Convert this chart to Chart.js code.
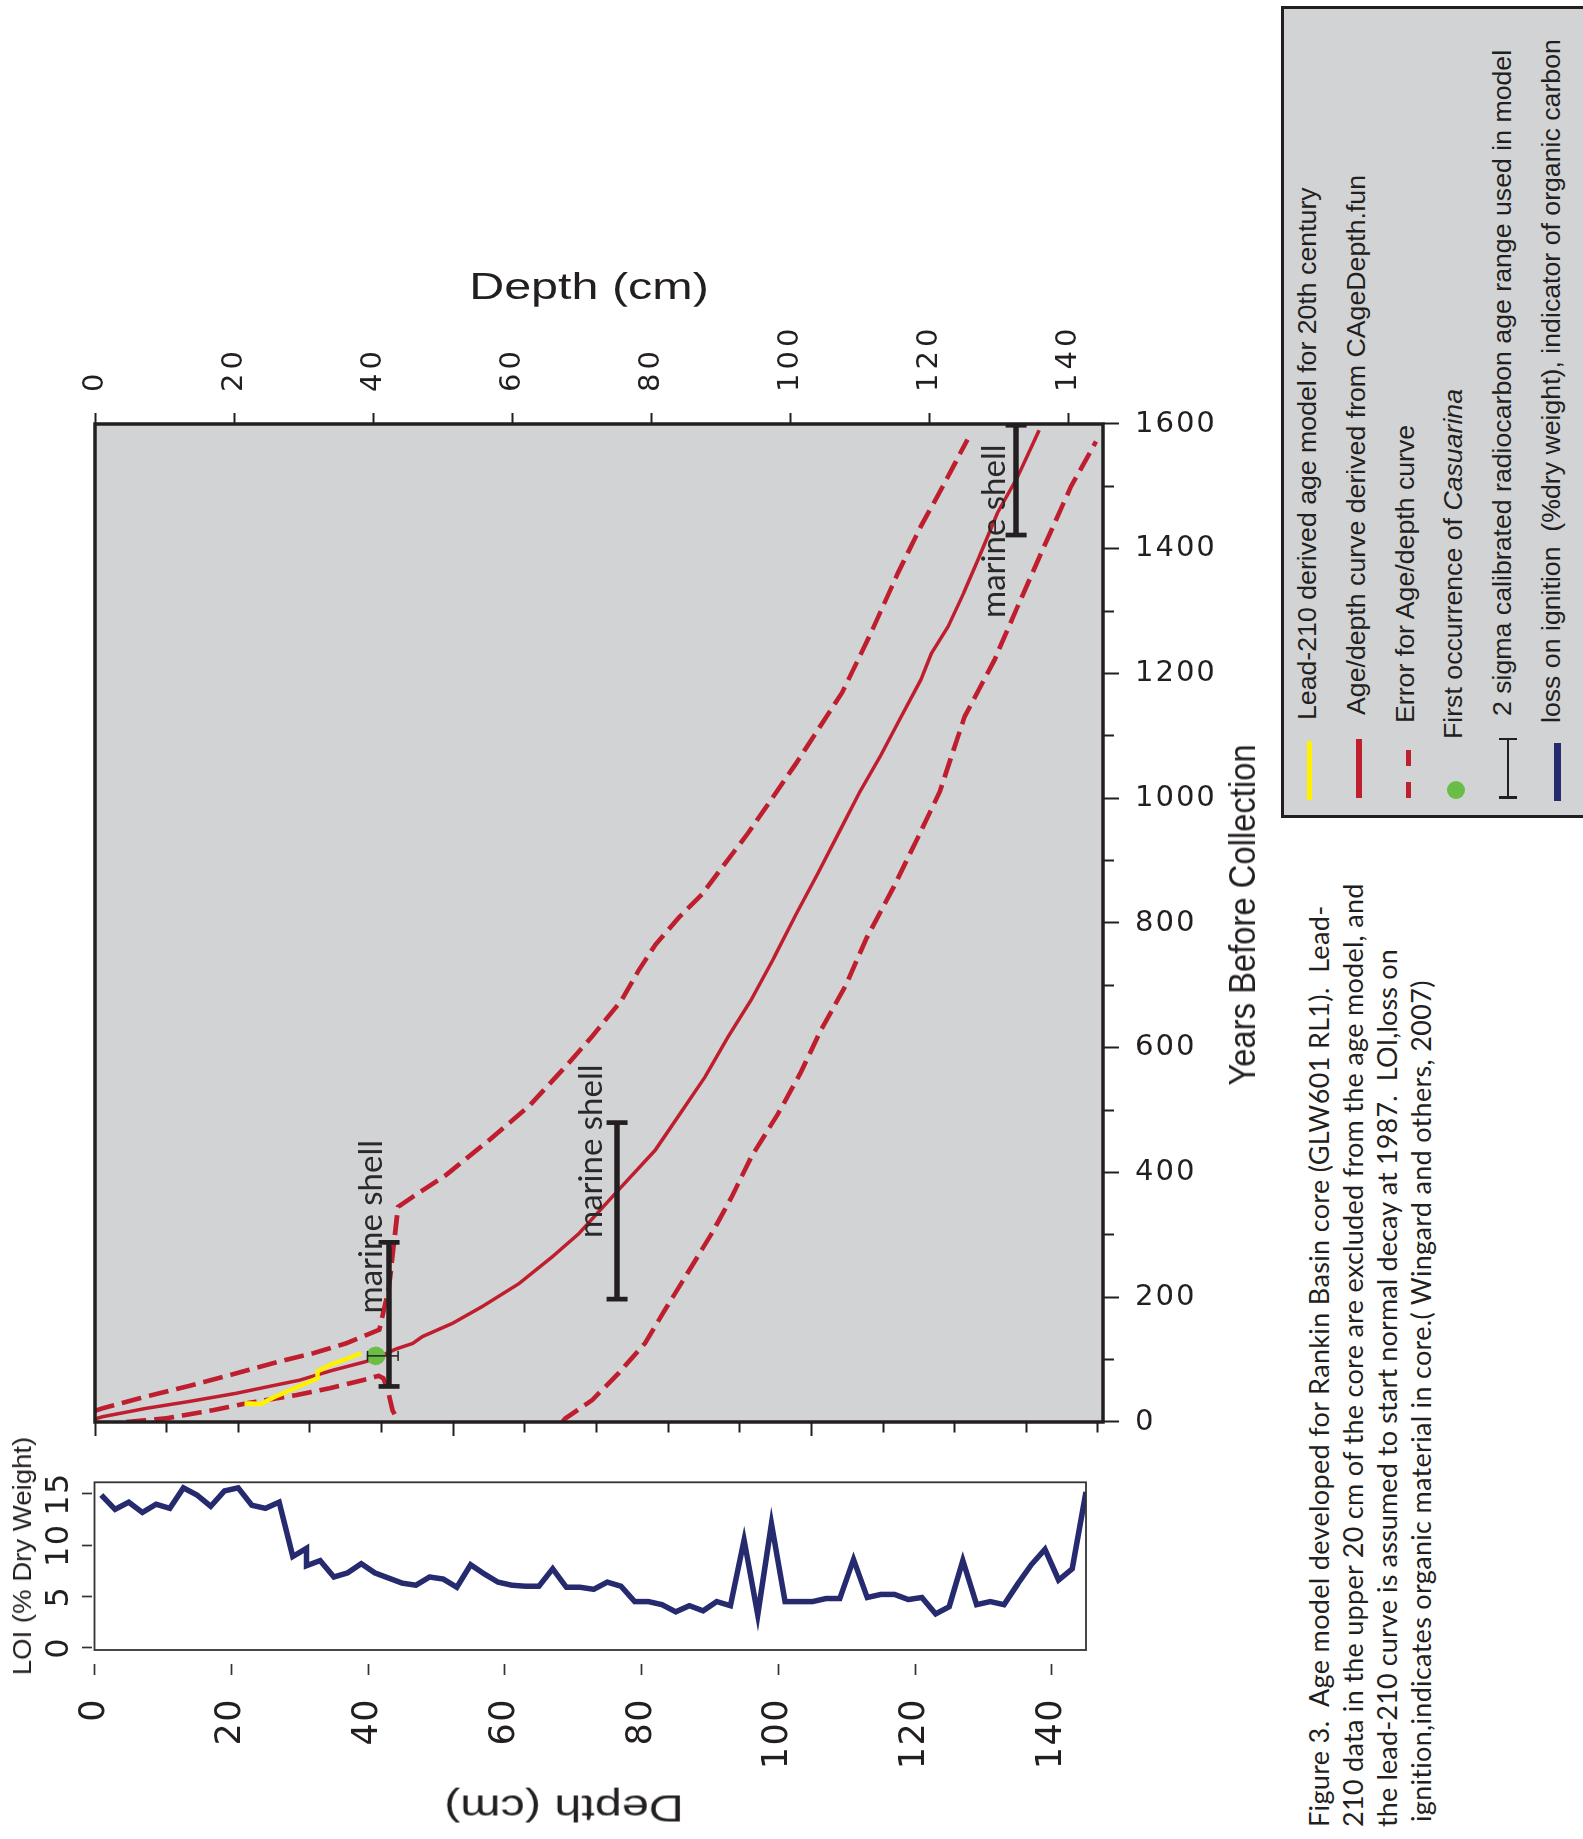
<!DOCTYPE html>
<html lang="en">
<head>
<meta charset="utf-8">
<title>Rankin Basin core GLW601 RL1 – age model</title>
<script src="https://cdn.jsdelivr.net/npm/chart.js@4.4.1/dist/chart.umd.min.js"></script>
<style>
  html, body { margin: 0; background: #fff; }
  body { width: 1583px; height: 1839px; overflow: hidden; position: relative;
         font-family: "Liberation Sans", Arial, sans-serif; color: #231f20; }
  /* la figure est montée à l'horizontale puis tournée d'un quart de tour */
  #figure { position: absolute; left: 0; top: 0; width: 1839px; height: 1583px; overflow: hidden;
            transform-origin: 0 0; transform: translate(0, 1839px) rotate(-90deg); }
  #figure canvas { position: absolute; top: 0; }
  .texte { position: absolute; white-space: nowrap; line-height: 1; }
  .titre { font-size: 37px; }
  #cadreLegende { position: absolute; box-sizing: border-box; border: 3px solid #231f20; background: #d1d3d4; }
  .symbole { position: absolute; }
  .legende { font-size: 26.7px; }
  #legendeFigure { position: absolute; left: 12px; top: 1302px; font-family: Lato, "Open Sans", sans-serif;
                   font-size: 27px; line-height: 34px; }
  #legendeFigure div { white-space: nowrap; width: max-content; }
</style>
</head>
<body>
<div id="figure">
  <canvas id="perteFeu" width="380" height="1130" style="left:0"></canvas>
  <canvas id="graphique" width="1459" height="1275" style="left:380px"></canvas>

  <!-- titres des axes -->
  <div class="texte titre" style="left:1553px; top:589px; transform: translate(-50%,-50%) rotate(90deg) scaleX(1.31);">Depth (cm)</div>
  <div class="texte titre" style="left:30.5px; top:564px; transform: translate(-50%,-50%) rotate(-90deg) scaleX(1.31);">Depth (cm)</div>
  <div class="texte" style="left:924px; top:1243px; font-size:36px; transform: translate(-50%,-50%) scaleX(0.91);">Years Before Collection</div>
  <div class="texte" style="left:282.5px; top:21.5px; font-size:26px; transform: translate(-50%,-50%) scaleX(1.06);">LOI (% Dry Weight)</div>

  <!-- légende -->
  <div id="cadreLegende" style="left:1021px; top:1281px; width:812px; height:330px;"></div>
  <div class="symbole" style="left:1039px; top:1306.5px; width:59px; height:5.5px; background:#fff200;"></div>
  <div class="symbole" style="left:1041px; top:1356px; width:59px; height:5.5px; background:#be1e2d;"></div>
  <div class="symbole" style="left:1041px; top:1406px; width:16px; height:5px; background:#be1e2d;"></div>
  <div class="symbole" style="left:1073px; top:1406px; width:16px; height:5px; background:#be1e2d;"></div>
  <div class="symbole" style="left:1040px; top:1447px; width:18px; height:18px; border-radius:50%; background:#6abd45;"></div>
  <div class="symbole" style="left:1041px; top:1507px; width:59px; height:2px; background:#231f20;"></div>
  <div class="symbole" style="left:1040px; top:1499px; width:2.5px; height:18px; background:#231f20;"></div>
  <div class="symbole" style="left:1098.5px; top:1499px; width:2.5px; height:18px; background:#231f20;"></div>
  <div class="symbole" style="left:1038px; top:1554px; width:58px; height:6.5px; background:#262a6e;"></div>
  <div class="texte legende" style="left:1119px; top:1294px;">Lead-210 derived age model for 20th century</div>
  <div class="texte legende" style="left:1124px; top:1343px;">Age/depth curve derived from CAgeDepth.fun</div>
  <div class="texte legende" style="left:1116px; top:1391.5px;">Error for Age/depth curve</div>
  <div class="texte legende" style="left:1100px; top:1440px;">First occurrence of <i>Casuarina</i></div>
  <div class="texte legende" style="left:1123px; top:1489px;">2 sigma calibrated radiocarbon age range used in model</div>
  <div class="texte legende" style="left:1116px; top:1537.5px;">loss on ignition&nbsp; (%dry weight), indicator of organic carbon</div>

  <!-- texte de la figure -->
  <div id="legendeFigure">
    <div data-largeur="922">Figure 3.&nbsp; Age model developed for Rankin Basin core (GLW601 RL1).&nbsp; Lead-</div>
    <div data-largeur="944">210 data in the upper 20 cm of the core are excluded from the age model, and</div>
    <div data-largeur="878">the lead-210 curve is assumed to start normal decay at 1987.&nbsp; LOI,loss on</div>
    <div data-largeur="842" style="margin-left:5px">ignition,indicates organic material in core.( Wingard and others, 2007)</div>
  </div>
</div>

<script>
// Profondeur (cm) et âge (années avant le prélèvement) pour chaque courbe
const leadModel = [[21.5, 30], [23.9, 29], [25.6, 39], [32, 70], [32, 81], [33.7, 91], [38.3, 110]];

const ageCurve = [[0, 5], [1.1, 8.5], [7.4, 22], [13.6, 33], [20.3, 46], [24.6, 56], [29.4, 67],
  [34.2, 83], [39, 97], [41.5, 108], [43.3, 117], [45.7, 126], [47.1, 137], [51.4, 158],
  [55.7, 185], [61, 222], [65.8, 265], [69.6, 302], [75.3, 372], [80.6, 436], [83.9, 490],
  [87.8, 554], [91.1, 618], [94.4, 677], [97.7, 745], [100.8, 813], [104, 880], [107, 945],
  [110, 1010], [113, 1068], [115.7, 1125], [118.8, 1190], [120.3, 1232], [122.7, 1275],
  [125, 1330], [127, 1382], [129.8, 1457], [132.7, 1515], [135.8, 1590]];

const errorOlder = [[0, 18], [1.1, 22], [7.4, 41], [13.6, 58], [20.3, 78], [26.5, 97], [31.3, 110],
  [36.1, 126], [40.9, 148], [42.3, 217], [43.6, 345], [45.7, 361], [50.5, 396], [56.7, 452],
  [62.4, 506], [67.7, 570], [71.5, 618], [75.8, 677], [78.2, 724], [80.6, 765], [84, 809],
  [87.3, 846], [94, 945], [100.8, 1055], [107.5, 1170], [111.5, 1262], [115.5, 1361],
  [118.8, 1436], [122.2, 1505], [125.5, 1575]];

const errorYoungTop = [[4.5, 0], [10.3, 6], [17, 19], [21.8, 30], [28.9, 43], [33.7, 54],
  [38.5, 67], [40.8, 74], [41.5, 70], [42.1, 52], [42.8, 19], [43.3, 8]];

const errorYoung = [[67.2, 0], [67.7, 6], [71.5, 35], [75.3, 78], [79.1, 126], [82, 180],
  [85.8, 249], [88.7, 302], [91.6, 361], [94.4, 425], [98.3, 495], [101.5, 560], [104.5, 630],
  [108, 700], [111, 776], [115, 860], [118.5, 940], [121.5, 1010], [125.1, 1131], [129.4, 1222],
  [132.7, 1307], [136.5, 1403], [140.4, 1500], [144, 1572]];

// Casuarina : [profondeur, âge] et intervalle de profondeur
const casuarina = [40.4, 106];
const casuarinaDepthRange = [39.2, 43.6];

// coquilles marines : [profondeur, âge min, âge max] (2 sigma)
const marineShells = [[42.3, 57, 288], [75.1, 197, 480], [132.5, 1422, 1598]];
// étiquettes : [texte, profondeur de la ligne de base, âge du début du texte]
const shellLabels = [['marine shell', 41.25, 174], ['marine shell', 72.9, 295], ['marine shell', 130.9, 1289]];

// Perte au feu (% poids sec) selon la profondeur
const loiDepth = [1, 3, 5, 7, 9, 11, 13, 15, 17, 19, 21, 23, 25, 27, 29, 31, 31, 33, 35, 37, 39, 41,
  43, 45, 47, 49, 51, 53, 55, 57, 59, 61, 63, 65, 67, 69, 71, 73, 75, 77, 79, 81, 83, 85, 87, 89,
  91, 93, 95, 97, 99, 101, 103, 105, 107, 109, 111, 113, 115, 117, 119, 121, 123, 125, 127, 129,
  131, 133, 135, 137, 139, 141, 143, 145];
const loiValues = [14.9, 13.5, 14.2, 13.2, 14.0, 13.6, 15.6, 14.9, 13.8, 15.3, 15.6, 13.9, 13.6,
  14.2, 8.9, 9.7, 8.0, 8.5, 6.9, 7.3, 8.2, 7.3, 6.8, 6.3, 6.1, 6.9, 6.7, 5.9, 8.1, 7.2, 6.4, 6.1,
  6.0, 6.0, 7.7, 5.9, 5.9, 5.7, 6.4, 6.0, 4.5, 4.5, 4.2, 3.5, 4.1, 3.6, 4.5, 4.1, 10.5, 3.2, 12.1,
  4.5, 4.5, 4.5, 4.8, 4.8, 8.6, 4.9, 5.2, 5.2, 4.7, 4.9, 3.3, 4.0, 8.5, 4.2, 4.5, 4.2, 6.2, 8.1,
  9.6, 6.6, 7.7, 15.2];

const NOIR = '#231f20';
const ROUGE = '#be1e2d';

// Fond gris, cadre et espacement des chiffres des axes
const cadre = {
  id: 'cadre',
  beforeDraw(chart, args, opts) {
    const { ctx, chartArea: a } = chart;
    if (opts.fond) {
      ctx.save();
      ctx.fillStyle = opts.fond;
      ctx.fillRect(a.left, a.top, a.right - a.left, a.bottom - a.top);
      ctx.restore();
    }
    ctx.letterSpacing = opts.espacement || '0px';
  },
  afterDatasetsDraw(chart, args, opts) {
    const { ctx, chartArea: a } = chart;
    ctx.save();
    ctx.letterSpacing = '0px';
    ctx.strokeStyle = opts.couleur;
    ctx.lineWidth = opts.epaisseur;
    ctx.strokeRect(a.left, a.top, a.right - a.left, a.bottom - a.top);
    ctx.restore();
  },
  afterDraw(chart) {
    chart.ctx.letterSpacing = '0px';
  }
};

// Années sous l'axe, écrites perpendiculairement
const etiquettesAnnees = {
  id: 'etiquettesAnnees',
  afterDraw(chart, args, opts) {
    const { ctx } = chart;
    const sx = chart.scales.x;
    ctx.save();
    ctx.font = '29px "DejaVu Sans"';
    ctx.letterSpacing = '2px';
    ctx.fillStyle = NOIR;
    ctx.textAlign = 'left';
    ctx.textBaseline = 'middle';
    sx.ticks.filter(t => t.value % 200 === 0).forEach(t => {
      ctx.save();
      ctx.translate(sx.getPixelForValue(t.value), sx.top + opts.decalage);
      ctx.rotate(Math.PI / 2);
      ctx.fillText(String(t.value), 0, 0);
      ctx.restore();
    });
    ctx.restore();
  }
};

// Étiquettes "marine shell"
const etiquettesCoquilles = {
  id: 'etiquettesCoquilles',
  afterDatasetsDraw(chart) {
    const { ctx } = chart;
    const { x: sx, y: sy } = chart.scales;
    ctx.save();
    ctx.letterSpacing = '0px';
    ctx.font = '33px Lato, "Open Sans", sans-serif';
    ctx.fillStyle = '#2b2829';
    ctx.textAlign = 'left';
    ctx.textBaseline = 'alphabetic';
    shellLabels.forEach(([texte, profondeur, annees]) => {
      ctx.fillText(texte, sx.getPixelForValue(annees), sy.getPixelForValue(profondeur));
    });
    ctx.restore();
  }
};

const versPoints = (liste) => liste.map(([profondeur, annees]) => ({ x: annees, y: profondeur }));

const courbe = (liste, couleur, epaisseur, tirets) => ({
  data: versPoints(liste),
  borderColor: couleur,
  borderWidth: epaisseur,
  borderDash: tirets || [],
  borderCapStyle: 'butt',
  pointRadius: 0,
  tension: 0,
  fill: false
});

const barresCoquilles = marineShells.map(([profondeur, jeune, vieux]) => ({
  data: [{ x: jeune, y: profondeur }, { x: vieux, y: profondeur }],
  borderColor: NOIR,
  borderWidth: 5.5,
  pointStyle: 'line',
  pointRotation: 90,
  pointRadius: 10.5,
  pointBorderWidth: 4.7,
  pointBorderColor: NOIR,
  pointBackgroundColor: NOIR
}));

const options = {
  indexAxis: 'y',
  responsive: false,
  animation: false,
  devicePixelRatio: 1,
  events: []
};

// Graphique principal : âge / profondeur
new Chart(document.getElementById('graphique'), {
  type: 'line',
  data: {
    datasets: [
      ...barresCoquilles,
      {
        data: [{ x: casuarina[1], y: casuarinaDepthRange[0] }, { x: casuarina[1], y: casuarinaDepthRange[1] }],
        borderColor: NOIR, borderWidth: 1.5,
        pointStyle: 'line', pointRotation: 0, pointRadius: 5, pointBorderWidth: 1.5, pointBorderColor: NOIR
      },
      {
        data: [{ x: casuarina[1], y: casuarina[0] }],
        showLine: false, pointRadius: 9.3, pointBorderWidth: 0, pointBackgroundColor: '#6abd45'
      },
      courbe(leadModel, '#fff200', 4.5),
      courbe(ageCurve, ROUGE, 3.5),
      courbe(errorOlder, ROUGE, 4.6, [20, 8]),
      courbe(errorYoungTop, ROUGE, 4.6, [20, 8]),
      courbe(errorYoung, ROUGE, 4.6, [20, 8])
    ]
  },
  options: {
    ...options,
    layout: { padding: { top: 95, right: 0, bottom: 0, left: 0 } },
    plugins: {
      legend: { display: false },
      tooltip: { enabled: false },
      cadre: { fond: '#d1d3d4', couleur: NOIR, epaisseur: 3.5, espacement: '4px' },
      etiquettesAnnees: { decalage: 32 }
    },
    scales: {
      x: {
        type: 'linear', position: 'bottom', min: 0, max: 1600,
        ticks: { stepSize: 100, display: false, includeBounds: false },
        grid: {
          drawOnChartArea: false, tickLength: 16, tickWidth: 2, tickColor: NOIR,
          tickBorderDash: (c) => (c.tick && c.tick.value % 200 ? [11, 40] : [])
        },
        border: { display: false },
        afterFit: (s) => { s.height = 172; }
      },
      y: {
        type: 'linear', position: 'right', reverse: true, min: 0, max: 145,
        ticks: { stepSize: 20, includeBounds: false, padding: 21, color: NOIR,
                 font: { family: 'DejaVu Sans', size: 29 } },
        grid: { drawOnChartArea: false, tickLength: 11, tickWidth: 2, tickColor: NOIR },
        border: { display: false },
        afterFit: (s) => { s.width = 424; }
      },
      graduation: {
        type: 'linear', position: 'left', reverse: true, min: 0, max: 14.07,
        ticks: { stepSize: 1, includeBounds: false, display: false },
        grid: {
          drawOnChartArea: false, tickLength: 14, tickWidth: 2, tickColor: NOIR,
          tickBorderDash: (c) => (c.tick && c.tick.value % 5 ? [0, 3.5, 10.5, 0] : [])
        },
        border: { display: false },
        afterFit: (s) => { s.width = 37; }
      }
    }
  },
  plugins: [cadre, etiquettesAnnees, etiquettesCoquilles]
});

// Perte au feu
new Chart(document.getElementById('perteFeu'), {
  type: 'line',
  data: {
    datasets: [{
      data: loiDepth.map((profondeur, i) => ({ x: loiValues[i], y: profondeur })),
      borderColor: '#262a6e',
      borderWidth: 5.5,
      borderJoinStyle: 'miter',
      pointRadius: 0,
      tension: 0
    }]
  },
  options: {
    ...options,
    layout: { padding: { top: 0, right: 23.3, bottom: 28, left: 0 } },
    plugins: {
      legend: { display: false },
      tooltip: { enabled: false },
      cadre: { couleur: '#333', epaisseur: 1.8, espacement: '1.5px' }
    },
    scales: {
      x: {
        type: 'linear', position: 'top', min: -0.224, max: 16.14,
        ticks: { stepSize: 5, includeBounds: false, padding: 3, color: NOIR,
                 font: { family: 'DejaVu Sans', size: 32 } },
        grid: { drawOnChartArea: false, tickLength: 12.5, tickWidth: 1.7, tickColor: '#333', tickBorderDash: [10, 40] },
        border: { display: false },
        afterFit: (s) => { s.height = 94.5; }
      },
      y: {
        type: 'linear', position: 'left', reverse: true, min: 0, max: 145,
        ticks: { stepSize: 20, includeBounds: false, padding: 23, color: NOIR,
                 font: { family: 'DejaVu Sans', size: 35 } },
        grid: { drawOnChartArea: false, tickLength: 25, tickWidth: 1.7, tickColor: '#333', tickBorderDash: [11, 40] },
        border: { display: false },
        afterFit: (s) => { s.width = 189; }
      }
    }
  },
  plugins: [cadre]
});

// Ajuste l'approche des lignes du texte à leur longueur
document.querySelectorAll('[data-largeur]').forEach((el) => {
  const ecart = (Number(el.dataset.largeur) - el.offsetWidth) / el.textContent.length;
  el.style.letterSpacing = ecart.toFixed(3) + 'px';
});
</script>
</body>
</html>
